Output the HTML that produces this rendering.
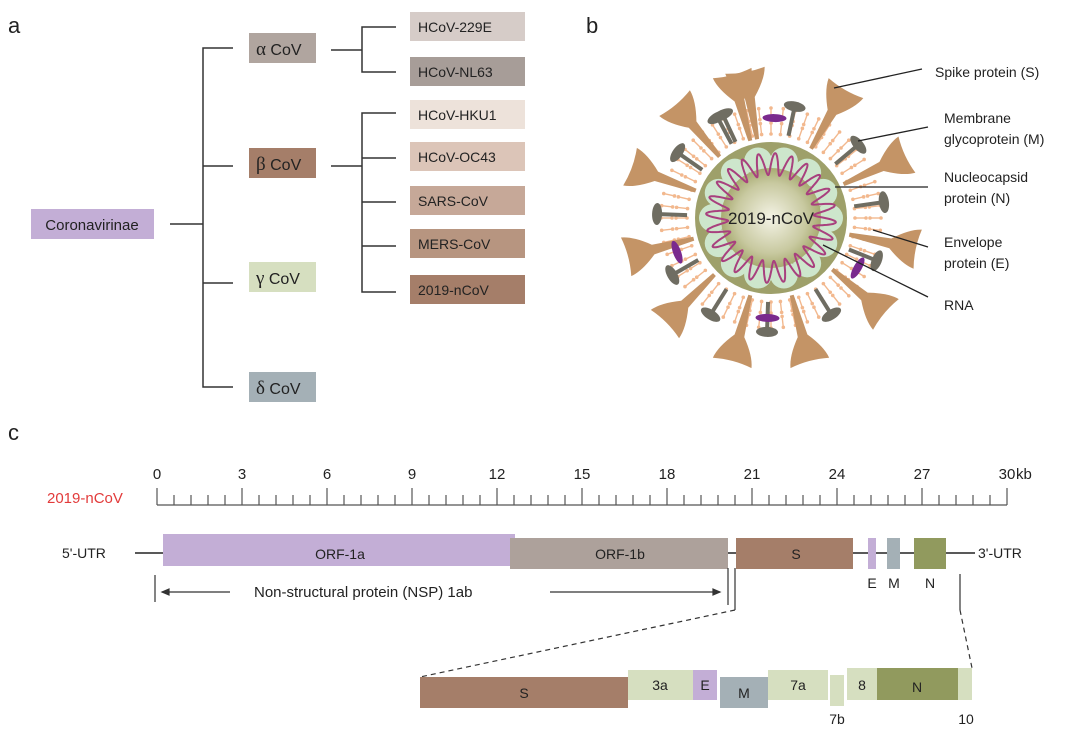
<!DOCTYPE html>
<html><head><meta charset="utf-8"><style>
html,body{margin:0;padding:0;background:#fff;}
body{width:1080px;height:738px;overflow:hidden;font-family:"Liberation Sans",sans-serif;}
svg text{font-family:"Liberation Sans",sans-serif;}
</style></head><body>
<svg id="s" width="1080" height="738" xmlns="http://www.w3.org/2000/svg">
<defs>
<radialGradient id="core" cx="50%" cy="50%" r="50%">
<stop offset="0" stop-color="#f4f3e6"/><stop offset="0.7" stop-color="#c8c9a0"/><stop offset="1" stop-color="#a8ab72"/>
</radialGradient>
</defs>
<!-- panel a -->
<text x="8" y="33" font-size="22" fill="#222">a</text>
<g stroke="#333" stroke-width="1.5" fill="none">
<path d="M170 224H203M233 48H203V387H233M203 166H233M203 283H233"/>
<path d="M331 50H362M396 27H362V72H396"/>
<path d="M331 166H362M396 113H362V292H396M362 158H396M362 202H396M362 246H396"/>
</g>
<rect x="31" y="209" width="123" height="30" fill="#c3aed6"/>
<text x="92" y="230" font-size="15" text-anchor="middle" fill="#222">Coronavirinae</text>
<rect x="249" y="33" width="67" height="30" fill="#b0a59f"/>
<rect x="249" y="148" width="67" height="30" fill="#a57e69"/>
<rect x="249" y="262" width="67" height="30" fill="#d6dfc0"/>
<rect x="249" y="372" width="67" height="30" fill="#a4b0b6"/>
<g font-size="16" fill="#222">
<text x="256" y="55"><tspan font-family="Liberation Serif" font-size="19">α</tspan> CoV</text>
<text x="256" y="170"><tspan font-family="Liberation Serif" font-size="19">β</tspan> CoV</text>
<text x="256" y="284"><tspan font-family="Liberation Serif" font-size="19">γ</tspan> CoV</text>
<text x="256" y="394"><tspan font-family="Liberation Serif" font-size="19">δ</tspan> CoV</text>
</g>
<g font-size="14" fill="#222">
<rect x="410" y="12" width="115" height="29" fill="#d6ccc8"/><text x="418" y="32">HCoV-229E</text>
<rect x="410" y="57" width="115" height="29" fill="#a79d98"/><text x="418" y="77">HCoV-NL63</text>
<rect x="410" y="100" width="115" height="29" fill="#ede2da"/><text x="418" y="120">HCoV-HKU1</text>
<rect x="410" y="142" width="115" height="29" fill="#dcc5b8"/><text x="418" y="162">HCoV-OC43</text>
<rect x="410" y="186" width="115" height="29" fill="#c6a898"/><text x="418" y="206">SARS-CoV</text>
<rect x="410" y="229" width="115" height="29" fill="#b79580"/><text x="418" y="249">MERS-CoV</text>
<rect x="410" y="275" width="115" height="29" fill="#a57e69"/><text x="418" y="295">2019-nCoV</text>
</g>
<!-- panel b -->
<text x="586" y="33" font-size="22" fill="#222">b</text>
<g id="virus"></g>
<g stroke="#222" stroke-width="1.3">
<path d="M834 88L922 69M858 141L928 127M835 187H928M873 230L928 247M823 245L928 297"/>
</g>
<g fill="#222" font-size="14">
<text x="935" y="77">Spike protein (S)</text>
<text x="944" y="123">Membrane</text><text x="944" y="144">glycoprotein (M)</text>
<text x="944" y="182">Nucleocapsid</text><text x="944" y="203">protein (N)</text>
<text x="944" y="247">Envelope</text><text x="944" y="268">protein (E)</text>
<text x="944" y="310">RNA</text>
</g>
<!-- panel c -->
<text x="8" y="440" font-size="22" fill="#222">c</text>
<g id="ruler" stroke="#555" stroke-width="1.2"></g>
<text x="47" y="503" font-size="15" fill="#e23b3b">2019-nCoV</text>
<line x1="135" y1="553" x2="975" y2="553" stroke="#222" stroke-width="1.5"/>
<text x="62" y="558" font-size="14" fill="#222">5'-UTR</text>
<text x="978" y="558" font-size="14" fill="#222">3'-UTR</text>
<rect x="163" y="534" width="352" height="32" fill="#c3aed6"/>
<rect x="510" y="538" width="218" height="31" fill="#ada19b"/>
<rect x="736" y="538" width="117" height="31" fill="#a57e69"/>
<rect x="868" y="538" width="8" height="31" fill="#c3aed6"/>
<rect x="887" y="538" width="13" height="31" fill="#a4b0b6"/>
<rect x="914" y="538" width="32" height="31" fill="#919a5e"/>
<g font-size="14" fill="#222" text-anchor="middle">
<text x="340" y="559">ORF-1a</text><text x="620" y="559">ORF-1b</text><text x="796" y="559">S</text>
<text x="872" y="588">E</text><text x="894" y="588">M</text><text x="930" y="588">N</text>
</g>
<g stroke="#333" stroke-width="1.2" fill="none">
<path d="M155 575V602M728 568V605M735 568V610M960 574V610"/>
<path d="M162 592H230M550 592H720"/>
<path d="M162 592l7 -3v6zM720 592l-7 -3v6z" fill="#333"/>
<path d="M735 610L420 677M960 610L972 668" stroke-dasharray="5,4"/>
</g>
<text x="254" y="597" font-size="15" fill="#222">Non-structural protein (NSP) 1ab</text>
<rect x="420" y="677" width="208" height="31" fill="#a57e69"/>
<rect x="628" y="670" width="65" height="30" fill="#d6dfc0"/>
<rect x="693" y="670" width="24" height="30" fill="#c3aed6"/>
<rect x="720" y="677" width="48" height="31" fill="#a4b0b6"/>
<rect x="768" y="670" width="60" height="30" fill="#d6dfc0"/>
<rect x="830" y="675" width="14" height="31" fill="#d6dfc0"/>
<rect x="847" y="668" width="30" height="32" fill="#d6dfc0"/>
<rect x="877" y="668" width="81" height="32" fill="#919a5e"/>
<rect x="958" y="668" width="14" height="32" fill="#d6dfc0"/>
<g font-size="14" fill="#222" text-anchor="middle">
<text x="524" y="698">S</text><text x="660" y="690">3a</text><text x="705" y="690">E</text>
<text x="744" y="698">M</text><text x="798" y="690">7a</text><text x="862" y="690">8</text>
<text x="917" y="692">N</text><text x="837" y="724">7b</text><text x="966" y="724">10</text>
</g>
</svg>
<script>
var NS="http://www.w3.org/2000/svg";
function el(p,t,a){var e=document.createElementNS(NS,t);for(var k in a)e.setAttribute(k,a[k]);p.appendChild(e);return e;}
var r=document.getElementById('ruler'),S=document.getElementById('s');
var x0=157,x1=1007;
el(r,'line',{x1:x0,y1:505,x2:x1,y2:505});
for(var i=0;i<=50;i++){var x=x0+(x1-x0)*i/50;el(r,'line',{x1:x,y1:i%5==0?488:495,x2:x,y2:505});}
for(var k=0;k<=10;k++){var t=el(S,'text',{x:x0+(x1-x0)*k/10,y:479,'font-size':15,'text-anchor':'middle',fill:'#222'});t.textContent=(k*3);}
var kb=el(S,'text',{x:1016,y:479,'font-size':15,fill:'#222'});kb.textContent='kb';
var v=document.getElementById('virus');var cx=771,cy=218;
for(var i=0;i<56;i++){var a=i/56*2*Math.PI;var c=Math.cos(a),s=Math.sin(a);
 [[84,95],[99,110]].forEach(function(q){el(v,'line',{x1:cx+c*q[0],y1:cy+s*q[0],x2:cx+c*q[1],y2:cy+s*q[1],stroke:'#f2b88e','stroke-width':1.4});
 el(v,'circle',{cx:cx+c*q[0],cy:cy+s*q[0],r:1.8,fill:'#f2b88e'});el(v,'circle',{cx:cx+c*q[1],cy:cy+s*q[1],r:1.8,fill:'#f2b88e'});});}
var sp=[-100,-60,-25,12,40,75,105,135,165,200,230,255];
sp.forEach(function(d){var g=el(v,'g',{transform:'translate('+cx+','+cy+') rotate('+d+')'});
 el(g,'path',{d:'M80 -2 L122 -5 Q138 -18 150 -20 Q146 0 150 20 Q138 18 122 5 L80 2Z',fill:'#c49466'});});
[-118,-78,-40,-8,22,58,92,122,150,182,215,245].forEach(function(d){var g=el(v,'g',{transform:'translate('+cx+','+cy+') rotate('+d+')'});
 el(g,'line',{x1:84,y1:0,x2:112,y2:0,stroke:'#6f6d62','stroke-width':4});
 el(g,'ellipse',{cx:114,cy:0,rx:5,ry:11,fill:'#6f6d62'});});
[-88,30,92,160].forEach(function(d){var g=el(v,'g',{transform:'translate('+cx+','+cy+') rotate('+d+')'});
 el(g,'ellipse',{cx:100,cy:0,rx:12,ry:4,fill:'#7a2a8e',transform:'rotate(90 100 0)'});});
el(v,'circle',{cx:cx,cy:cy,r:76,fill:'#9ea06a'});
for(var i=0;i<14;i++){var a=i/14*2*Math.PI;el(v,'circle',{cx:cx+Math.cos(a)*58,cy:cy+Math.sin(a)*58,r:14,fill:'#cde6cc'});}
el(v,'circle',{cx:cx,cy:cy,r:50,fill:'url(#core)'});
var d='';for(var i=0;i<=720;i++){var a=i/720*2*Math.PI;var rr=54+11*Math.sin(a*24);var px=cx+Math.cos(a)*rr,py=cy+Math.sin(a)*rr;d+=(i?'L':'M')+px.toFixed(1)+' '+py.toFixed(1);}
el(v,'path',{d:d,fill:'none',stroke:'#a8407e','stroke-width':2});
var t=el(v,'text',{x:cx,y:cy+6,'font-size':17,'text-anchor':'middle',fill:'#222'});t.textContent='2019-nCoV';
</script>
</body></html>
